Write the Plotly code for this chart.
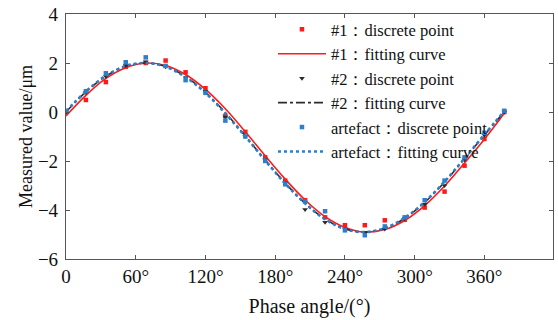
import plotly.graph_objects as go

# Phase angle grid (degrees)
phase = [0, 17.1, 34.3, 51.4, 68.6, 85.7, 102.9, 120.0, 137.1, 154.3, 171.4, 188.6,
         205.7, 222.9, 240.0, 257.1, 274.3, 291.4, 308.6, 325.7, 342.9, 360.0, 377.1]

# #1 discrete points and fitting curve
p1_points = [0.0, 0.49, 1.22, 1.85, 2.0, 2.1, 1.62, 0.97, -0.16, -0.81, -1.85, -2.8,
             -3.6, -4.3, -4.62, -4.62, -4.42, -4.4, -3.9, -3.25, -2.19, -1.1, 0.0]
p1_curve = [-0.16, 0.68, 1.37, 1.81, 2.0, 1.9, 1.53, 0.92, 0.13, -0.81, -1.79, -2.74,
            -3.59, -4.27, -4.71, -4.9, -4.8, -4.43, -3.82, -3.02, -2.08, -1.11, -0.05]

# #2 discrete points and fitting curve
p2_points = [0.0, 0.8, 1.45, 1.9, 2.05, 1.85, 1.4, 0.85, -0.2, -1.0, -1.95, -2.9,
             -3.98, -4.5, -4.78, -4.92, -4.78, -4.35, -3.77, -3.0, -1.95, -0.95, 0.0]
p2_curve = [0.0, 0.82, 1.46, 1.87, 2.0, 1.86, 1.44, 0.8, -0.03, -0.98, -1.96, -2.9,
            -3.72, -4.37, -4.77, -4.9, -4.75, -4.34, -3.69, -2.86, -1.91, -0.94, 0.01]

# artefact discrete points and fitting curve
art_points = [0.05, 0.85, 1.58, 2.03, 2.23, 1.88, 1.3, 0.78, -0.35, -1.0, -2.0, -2.95,
              -3.65, -4.05, -4.83, -5.03, -4.67, -4.3, -3.6, -2.8, -1.85, -0.85, 0.05]
art_curve = [0.02, 0.84, 1.48, 1.88, 2.0, 1.85, 1.42, 0.78, -0.06, -1.0, -1.98, -2.92,
             -3.73, -4.38, -4.78, -4.9, -4.74, -4.32, -3.67, -2.84, -1.89, -0.92, 0.03]

x_ticks = [0, 60, 120, 180, 240, 300, 360]
x_tick_labels = ["0", "60°", "120°", "180°", "240°", "300°", "360°"]
y_ticks = [-6, -4, -2, 0, 2, 4]

RED = "#ff1a1a"
BLACK = "#2b2b2b"
BLUE = "#2c7fc8"
FONT = "Liberation Serif"

fig = go.Figure()
fig.add_trace(go.Scatter(x=phase, y=p1_points, mode="markers", name="#1：discrete point",
                         marker=dict(symbol="square", size=4.5, color=RED)))
fig.add_trace(go.Scatter(x=phase, y=p1_curve, mode="lines", name="#1：fitting curve",
                         line=dict(color=RED, width=1.6, shape="spline")))
fig.add_trace(go.Scatter(x=phase, y=p2_points, mode="markers", name="#2：discrete point",
                         marker=dict(symbol="triangle-down", size=5, color=BLACK)))
fig.add_trace(go.Scatter(x=phase, y=p2_curve, mode="lines", name="#2：fitting curve",
                         line=dict(color=BLACK, width=1.6, dash="dashdot", shape="spline")))
fig.add_trace(go.Scatter(x=phase, y=art_points, mode="markers", name="artefact：discrete point",
                         marker=dict(symbol="square", size=4.5, color=BLUE)))
fig.add_trace(go.Scatter(x=phase, y=art_curve, mode="lines", name="artefact：fitting curve",
                         line=dict(color=BLUE, width=2.6, dash="dot", shape="spline")))

axis_common = dict(showline=True, linecolor="#555555", linewidth=1.2, mirror="ticks",
                   ticks="inside", ticklen=4, tickcolor="#555555", showgrid=False,
                   zeroline=False, automargin=False,
                   tickfont=dict(family=FONT, size=19, color="#111111"))

fig.update_layout(
    width=558, height=320,
    margin=dict(l=66, r=5, t=14, b=61),
    paper_bgcolor="white", plot_bgcolor="white",
    font=dict(family=FONT, color="#111111"),
    showlegend=True,
    legend=dict(x=0.425, y=1.008, xanchor="left", yanchor="top",
                bgcolor="rgba(0,0,0,0)", font=dict(family=FONT, size=16.5, color="#111111"),
                itemwidth=48, tracegroupgap=0, maxheight=300),
    xaxis=dict(range=[0, 419], tickvals=x_ticks, ticktext=x_tick_labels,
               title=dict(text="Phase angle/(°)", font=dict(family=FONT, size=20), standoff=13),
               **axis_common),
    yaxis=dict(range=[-6, 4], tickvals=y_ticks, ticklabelstandoff=3,
               title=dict(text="Measured value/μm", font=dict(family=FONT, size=18), standoff=0),
               **axis_common),
)

fig.write_html("out.html",
               config={"displayModeBar": False},
               post_script="document.body.style.margin='0';document.body.style.overflow='hidden';")
